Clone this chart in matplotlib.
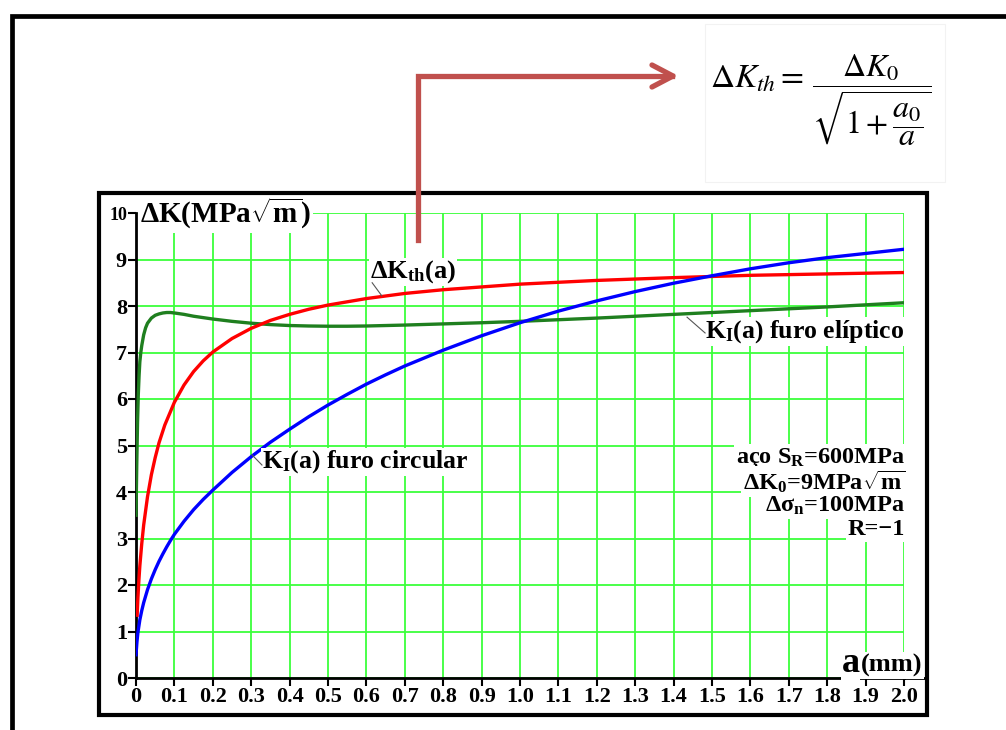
import matplotlib
matplotlib.use("Agg")
import matplotlib.pyplot as plt
from matplotlib.lines import Line2D
from matplotlib.patches import Rectangle

# threshold curve dK_th(a)
a_th = [0.003, 0.005, 0.0075, 0.01, 0.015, 0.02, 0.03, 0.04, 0.05, 0.06, 0.075, 0.1,
        0.125, 0.15, 0.175, 0.2, 0.25, 0.3, 0.35, 0.4, 0.45, 0.5, 0.6, 0.7, 0.8,
        1.0, 1.2, 1.4, 1.6, 1.8, 2.0]
k_th = [1.35, 1.73, 2.10, 2.41, 2.89, 3.29, 3.90, 4.37, 4.74, 5.06, 5.44, 5.93,
        6.30, 6.59, 6.82, 7.01, 7.30, 7.52, 7.69, 7.82, 7.93, 8.02, 8.16, 8.27, 8.35,
        8.47, 8.55, 8.61, 8.66, 8.69, 8.72]

# K_I for the circular hole
a_circ = [0.0, 0.0025, 0.005, 0.01, 0.015, 0.02, 0.03, 0.04, 0.05, 0.06, 0.07, 0.08,
          0.09, 0.1, 0.125, 0.15, 0.175, 0.2, 0.25, 0.3, 0.35, 0.4, 0.45, 0.5, 0.55,
          0.6, 0.65, 0.7, 0.8, 0.9, 1.0, 1.1, 1.2, 1.3, 1.4, 1.5, 1.6, 1.7, 1.8, 1.9, 2.0]
k_circ = [0.5, 0.78, 0.98, 1.25, 1.45, 1.62, 1.9, 2.13, 2.33, 2.51, 2.67, 2.82,
          2.96, 3.09, 3.37, 3.62, 3.84, 4.04, 4.42, 4.76, 5.07, 5.35, 5.62, 5.87, 6.1,
          6.32, 6.52, 6.71, 7.05, 7.36, 7.64, 7.89, 8.11, 8.31, 8.49, 8.65, 8.8, 8.93,
          9.04, 9.13, 9.22]

# K_I for the elliptical hole
a_ell = [0.0, 0.002, 0.004, 0.006, 0.008, 0.01, 0.0125, 0.015, 0.02, 0.025, 0.03,
         0.04, 0.05, 0.06, 0.07, 0.08, 0.09, 0.1, 0.125, 0.15, 0.175, 0.2, 0.25, 0.3,
         0.35, 0.4, 0.45, 0.5, 0.55, 0.6, 0.7, 0.8, 0.9, 1.0, 1.2, 1.4, 1.6, 1.8, 2.0]
k_ell = [3.5, 4.6, 5.5, 6.1, 6.5, 6.8, 7.0, 7.15, 7.38, 7.53, 7.63,
         7.74, 7.8, 7.83, 7.85, 7.86, 7.86, 7.85, 7.82, 7.78, 7.75, 7.72, 7.67, 7.63,
         7.6, 7.58, 7.57, 7.565, 7.565, 7.57, 7.59, 7.615, 7.64, 7.67, 7.74, 7.82,
         7.9, 7.98, 8.07]

x_ticks = [0.0, 0.1, 0.2, 0.3, 0.4, 0.5, 0.6, 0.7, 0.8, 0.9, 1.0,
           1.1, 1.2, 1.3, 1.4, 1.5, 1.6, 1.7, 1.8, 1.9, 2.0]
x_labels = ["0", "0.1", "0.2", "0.3", "0.4", "0.5", "0.6", "0.7", "0.8", "0.9", "1.0",
            "1.1", "1.2", "1.3", "1.4", "1.5", "1.6", "1.7", "1.8", "1.9", "2.0"]
y_ticks = [0, 1, 2, 3, 4, 5, 6, 7, 8, 9, 10]

plt.rcParams["font.family"] = ["Liberation Serif", "DejaVu Serif"]
plt.rcParams["mathtext.fontset"] = "custom"
plt.rcParams["mathtext.rm"] = "Liberation Serif:bold"
plt.rcParams["mathtext.it"] = "Liberation Serif:bold"
plt.rcParams["mathtext.bf"] = "Liberation Serif:bold"

W, H = 1006, 730
fig = plt.figure(figsize=(W / 100, H / 100), dpi=100)


def fx(x):
    return x / W


def fy(y):
    return 1 - y / H


# outer page frame and the inner chart frame
fig.add_artist(Rectangle((fx(12), fy(760)), fx(1030) - fx(12), fy(16) - fy(760),
                         transform=fig.transFigure, fill=False, ec="black", lw=3.4))
fig.add_artist(Rectangle((fx(99), fy(715)), fx(927) - fx(99), fy(193) - fy(715),
                         transform=fig.transFigure, fill=False, ec="black", lw=3.0))
fig.add_artist(Rectangle((fx(705), fy(182)), fx(945) - fx(705), fy(24) - fy(182),
                         transform=fig.transFigure, fill=False, ec="#f2f2f2", lw=0.8))

ax = fig.add_axes([fx(136), fy(678), fx(904) - fx(136), fy(213) - fy(678)])
ax.set_facecolor("none")
ax.set_xlim(0, 2.0)
ax.set_ylim(0, 10)
ax.set_xticks(x_ticks)
ax.set_xticklabels(x_labels)
ax.set_yticks(y_ticks)
ax.grid(True, color="#3cff3c", lw=1.3, zorder=0)
ax.set_axisbelow(True)
for s in ("top", "right"):
    ax.spines[s].set_visible(False)
ax.spines["left"].set_linewidth(2.0)
ax.spines["bottom"].set_linewidth(2.0)
ax.tick_params(direction="out", length=6, width=1.5, labelsize=16, pad=0.5)
for lab in ax.get_xticklabels() + ax.get_yticklabels():
    lab.set_fontweight("bold")
ax.get_yticklabels()[-1].set_fontsize(13)
ax.plot([2.0, 2.055], [0, 0], color="black", lw=2.0, clip_on=False)

ax.plot(a_ell, k_ell, color="#1f7f1f", lw=2.4, zorder=3)
ax.plot(a_th, k_th, color="#ff0000", lw=2.4, zorder=4)
ax.plot(a_circ, k_circ, color="#0000ff", lw=2.4, zorder=5)

wbox = dict(facecolor="white", edgecolor="none", pad=1.5)
lbox = dict(facecolor="white", edgecolor="none", pad=0.5)
ax.text(0.01, 10, r"$\Delta$K(MPa$\sqrt{\rm m}$)", fontsize=21, fontweight="bold",
        ha="left", va="center", bbox=wbox, zorder=6, clip_on=False)
mm = ax.text(2.047, 0.13, "(mm)", fontsize=19, fontweight="bold", ha="right",
             va="baseline", bbox=wbox, zorder=6, clip_on=False)

ax.text(0.61, 8.73, r"$\Delta$K$_{\rm th}$(a)", fontsize=19, fontweight="bold",
        ha="left", va="center", bbox=lbox, zorder=6)
ax.plot([0.615, 0.64], [8.5, 8.22], color="#555555", lw=0.8, zorder=6)

ax.text(0.328, 4.65, r"K$_{\rm I}$(a) furo circular", fontsize=18.5, fontweight="bold",
        ha="left", va="center", bbox=lbox, zorder=6)
ax.plot([0.302, 0.328], [4.8, 4.58], color="#555555", lw=0.8, zorder=6)

ax.text(1.482, 7.45, r"K$_{\rm I}$(a) furo elíptico", fontsize=18.5, fontweight="bold",
        ha="left", va="center", bbox=lbox, zorder=6)
ax.plot([1.435, 1.482], [7.76, 7.42], color="#555555", lw=0.8, zorder=6)

notes = [r"aço S$_{\rm R}$=600MPa", r"$\Delta$K$_0$=9MPa$\sqrt{\rm m}$",
         r"$\Delta\sigma_{\rm n}$=100MPa", "R=−1"]
note_y = [4.73, 4.22, 3.70, 3.20]
for txt, yy in zip(notes, note_y):
    ax.text(2.003, yy, txt, fontsize=17.5, fontweight="bold", ha="right", va="center",
            bbox=dict(facecolor="white", edgecolor="none", pad=1.5), zorder=6)

# formula for the threshold curve
fig.text(fx(710), fy(79), r"$\Delta K_{th} =$", fontsize=24, ha="left", va="center",
         math_fontfamily="stix", color="black")
fig.text(fx(812), fy(100), r"$\dfrac{\Delta K_0}{\sqrt{1+\dfrac{a_0}{a}}}$", fontsize=23,
         ha="left", va="center", math_fontfamily="stix", color="black")

# red connector arrow from the curve label to the formula
arrow_c = "#c0504d"
fig.add_artist(Line2D([fx(418), fx(418), fx(672)], [fy(240), fy(76), fy(76)],
                      color=arrow_c, lw=3.8, solid_joinstyle="miter", zorder=10))
fig.add_artist(Line2D([fx(652), fx(673), fx(652)], [fy(65), fy(76), fy(87)],
                      color=arrow_c, lw=3.8, solid_capstyle="round", zorder=10))

# the big "a" sits just left of "(mm)"
fig.canvas.draw()
bb = mm.get_window_extent()
x_left = ax.transData.inverted().transform((bb.x0 - 1, bb.y0))[0]
ax.text(x_left, 0.13, "a", fontsize=26, fontweight="bold", ha="right", va="baseline",
        bbox=dict(facecolor="white", edgecolor="none", pad=0.3), zorder=6, clip_on=False)

fig.savefig("out.png", dpi=100)
